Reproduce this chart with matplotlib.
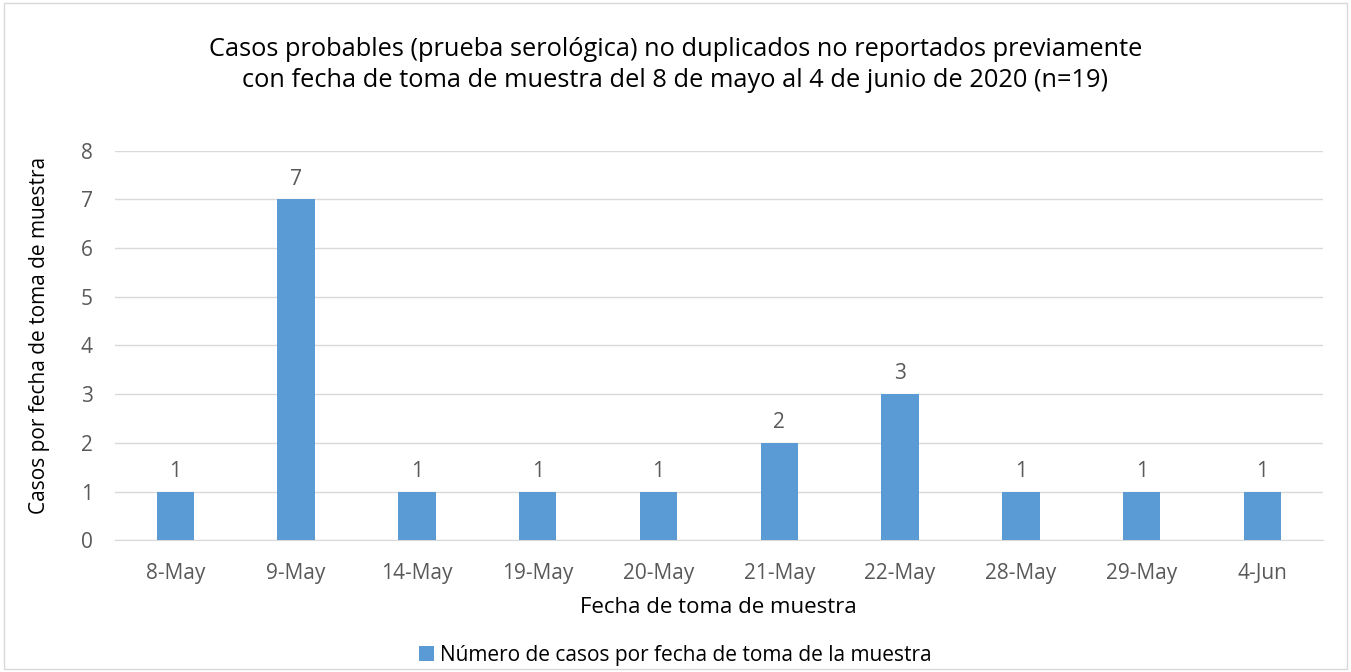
import matplotlib
matplotlib.use("Agg")
import matplotlib.pyplot as plt
from matplotlib.patches import Rectangle

fechas = ["8-May", "9-May", "14-May", "19-May", "20-May",
          "21-May", "22-May", "28-May", "29-May", "4-Jun"]
casos = [1, 7, 1, 1, 1, 2, 3, 1, 1, 1]

plt.rcParams['font.family'] = ['Open Sans', 'DejaVu Sans']

gris = "#595959"
azul = "#5B9BD5"

fig = plt.figure(figsize=(13.51, 6.72), dpi=100)
ax = fig.add_axes([0.0851, 0.196, 0.894, 0.580])

x = range(len(fechas))
ax.bar(x, casos, width=0.31, color=azul, zorder=3,
       label="Número de casos por fecha de toma de la muestra")
for xi, v in zip(x, casos):
    ax.text(xi, v + 0.2, str(v), ha="center", va="bottom", fontsize=15, color=gris)

ax.set_xlim(-0.5, len(fechas) - 0.5)
ax.set_ylim(0, 8)
ax.set_yticks(range(0, 9))
ax.set_xticks(list(x))
ax.set_xticklabels(fechas)
ax.tick_params(axis="both", length=0, labelsize=15, labelcolor=gris)
ax.tick_params(axis="x", pad=16)
ax.tick_params(axis="y", pad=16)
ax.grid(axis="y", color="#D9D9D9", linewidth=1, zorder=0)
for s in ["top", "right", "left"]:
    ax.spines[s].set_visible(False)
ax.spines["bottom"].set_color("#D9D9D9")

ax.set_xlabel("Fecha de toma de muestra", fontsize=16, color="black", labelpad=10)
ax.set_ylabel("Casos por fecha de toma de muestra", fontsize=15, color="black")
ax.yaxis.set_label_coords(-0.054, 0.525)

fig.text(0.5, 0.903, "Casos probables (prueba serológica) no duplicados no reportados previamente\n"
         "con fecha de toma de muestra del 8 de mayo al 4 de junio de 2020 (n=19)",
         ha="center", va="center", fontsize=18.3, color="black", linespacing=1.3)

leg = fig.legend(loc="center", bbox_to_anchor=(0.5, 0.025), frameon=False,
                 fontsize=15, handlelength=0.7, handleheight=0.7, handletextpad=0.3)
for t in leg.get_texts():
    t.set_color("black")

fig.patches.append(Rectangle((0.003, 0.004), 0.994, 0.992, transform=fig.transFigure,
                             fill=False, edgecolor="#D9D9D9", linewidth=1))

fig.savefig("out.png", dpi=100)
